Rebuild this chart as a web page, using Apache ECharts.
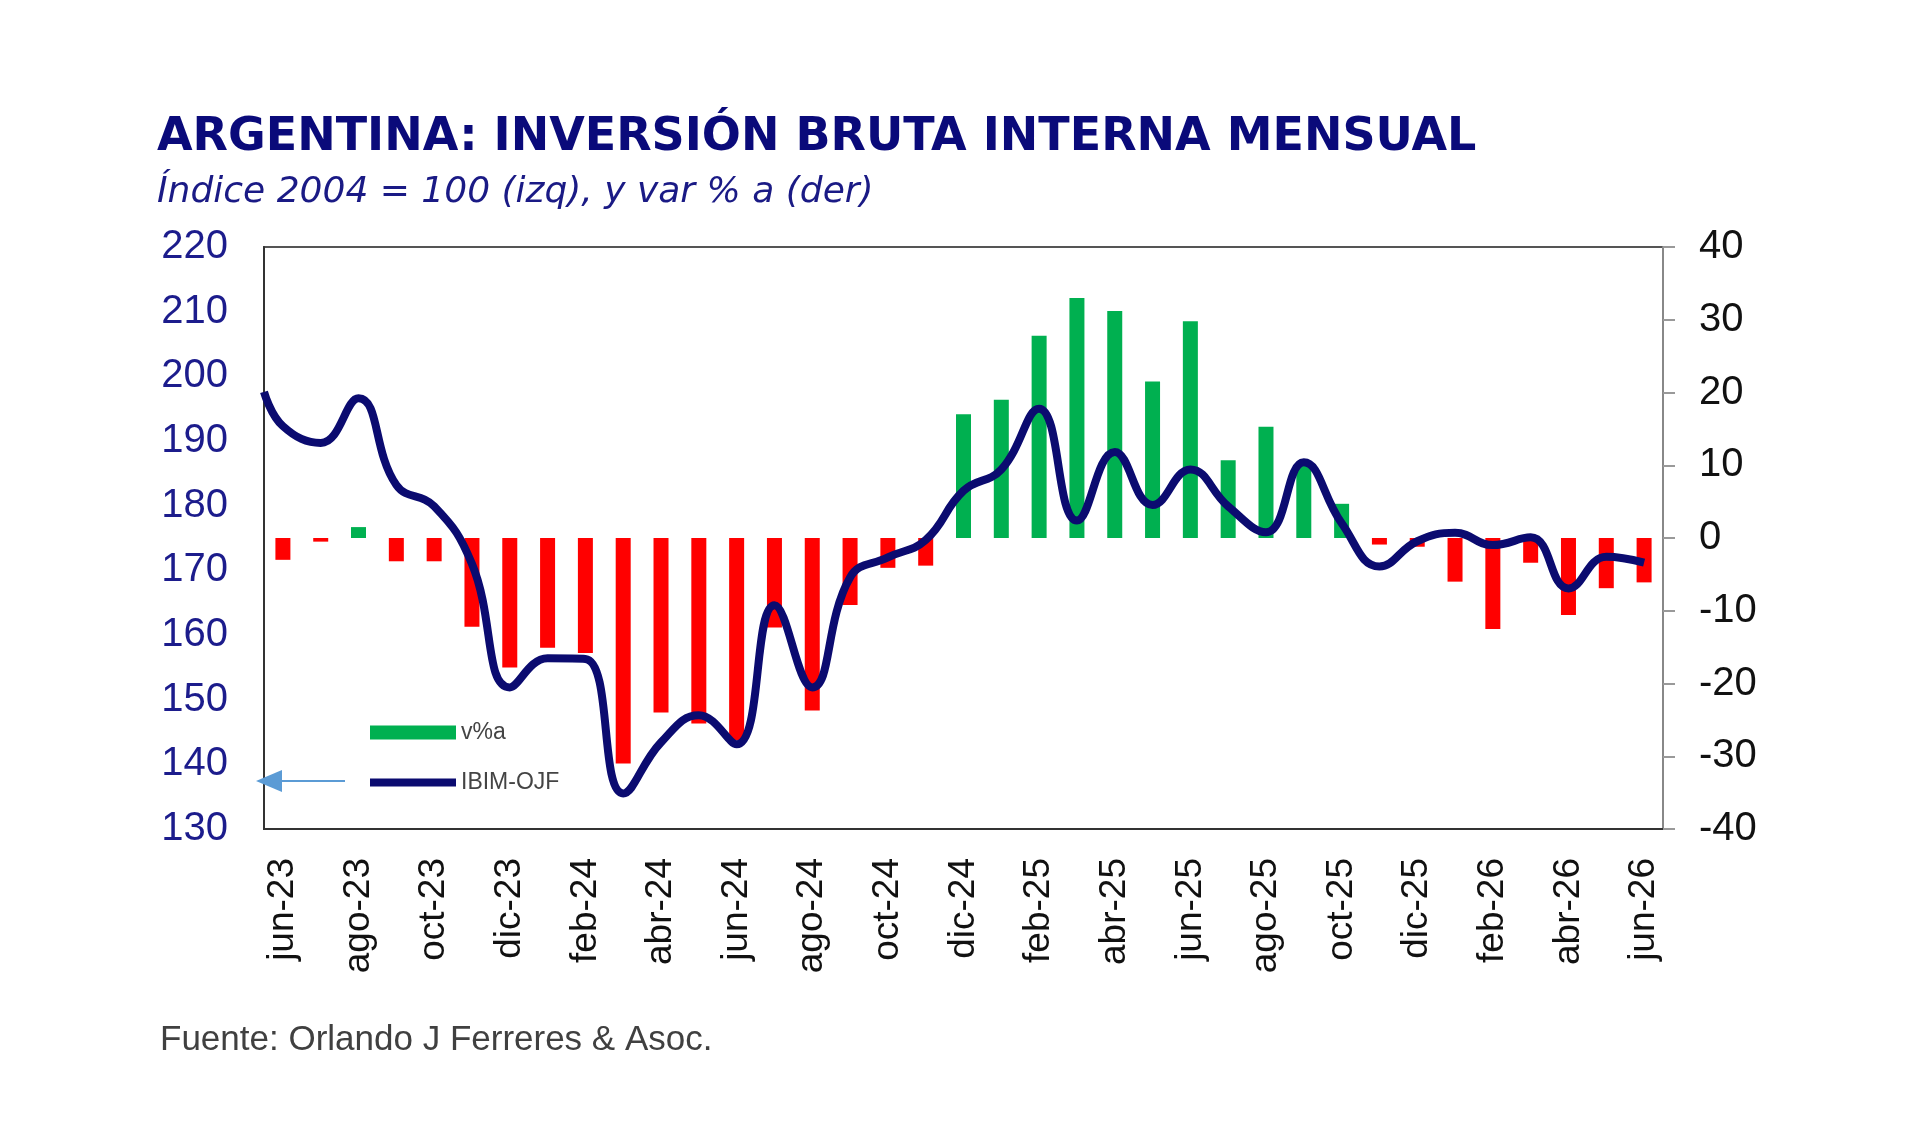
<!DOCTYPE html>
<html>
<head>
<meta charset="UTF-8">
<title>Argentina: Inversión Bruta Interna Mensual</title>
<style>
  html, body { margin: 0; padding: 0; background: #fff; }
  #main { width: 1920px; height: 1147px; }
</style>
</head>
<body>
<div id="main"></div>
<script src="https://cdn.jsdelivr.net/npm/echarts@6/dist/echarts.min.js"></script>
<script>
// meses (eje x)
var months = ['jun-23','jul-23','ago-23','sep-23','oct-23','nov-23','dic-23','ene-24','feb-24','mar-24',
  'abr-24','may-24','jun-24','jul-24','ago-24','sep-24','oct-24','nov-24','dic-24','ene-25',
  'feb-25','mar-25','abr-25','may-25','jun-25','jul-25','ago-25','sep-25','oct-25','nov-25',
  'dic-25','ene-26','feb-26','mar-26','abr-26','may-26','jun-26'];

// var % a (eje derecho)
var varA = [-3.0,-0.5,1.5,-3.2,-3.2,-12.2,-17.8,-15.1,-15.8,-31.0,
  -24.0,-25.5,-27.8,-12.3,-23.7,-9.2,-4.1,-3.8,17.0,19.0,
  27.8,33.0,31.2,21.5,29.8,10.7,15.3,10.0,4.7,-0.9,
  -1.2,-6.0,-12.5,-3.4,-10.6,-6.9,-6.1];

// IBIM-OJF, índice 2004=100 (eje izquierdo)
var ibim = [192.3,189.7,196.6,183.2,179.9,171.0,151.9,156.4,156.3,135.5,
  143.4,147.6,143.1,164.6,151.9,168.9,172.0,174.7,182.3,185.6,
  195.0,177.7,188.3,180.1,185.6,179.9,175.9,186.7,177.3,170.6,
  174.5,175.8,173.9,175.1,167.2,172.1,171.2];
// valor de la curva en el borde izquierdo del gráfico
var ibimEdge = 197.6;

var leftTicks = [130, 220, 10];
var rightTicks = [-40, 40, 10];

var myChart = echarts.init(document.getElementById('main'));

var barData = varA.map(function (v) {
  return { value: v, itemStyle: { color: v >= 0 ? '#00b050' : '#ff0000' } };
});
var lineData = [[-0.5, ibimEdge]].concat(ibim.map(function (v, i) { return [i, v]; }));

myChart.setOption({
  animation: false,
  title: [{
    text: 'ARGENTINA: INVERSIÓN BRUTA INTERNA MENSUAL',
    subtext: 'Índice 2004 = 100 (izq), y var % a (der)',
    left: 152,
    top: 110,
    itemGap: 14,
    textStyle: { fontFamily: 'DejaVu Sans', fontWeight: 'bold', fontSize: 46, color: '#0a0a7a' },
    subtextStyle: { fontFamily: 'DejaVu Sans', fontStyle: 'italic', fontSize: 36, color: '#1a1a85' }
  }, {
    text: 'Fuente: Orlando J Ferreres & Asoc.',
    left: 155,
    top: 1018,
    textStyle: { fontFamily: 'Liberation Sans', fontWeight: 'normal', fontSize: 35, color: '#404040' }
  }],
  legend: {
    orient: 'vertical',
    left: 361,
    top: 716,
    itemWidth: 86,
    itemHeight: 14,
    itemGap: 27,
    textStyle: { fontFamily: 'Liberation Sans', fontSize: 23, color: '#444' },
    data: [
      { name: 'v%a', icon: 'rect', itemStyle: { color: '#00b050' } },
      { name: 'IBIM-OJF', itemStyle: { opacity: 0 }, lineStyle: { width: 8, color: '#0b0b70' } }
    ]
  },
  grid: {
    left: 264, right: 257, top: 247, bottom: 318,
    show: true, borderColor: '#555', borderWidth: 2
  },
  xAxis: [{
    type: 'category',
    data: months,
    boundaryGap: true,
    axisLine: { onZero: false, lineStyle: { color: '#333', width: 2 } },
    axisTick: { show: false },
    axisLabel: {
      interval: 1, rotate: 90, margin: 29,
      fontFamily: 'Liberation Sans', fontSize: 37, color: '#111'
    }
  }, {
    type: 'value',
    min: -0.5, max: 36.5,
    show: false
  }],
  yAxis: [{
    type: 'value',
    position: 'left',
    min: leftTicks[0], max: leftTicks[1], interval: leftTicks[2],
    axisLine: { show: true, onZero: false, lineStyle: { color: '#333', width: 2 } },
    axisTick: { show: false },
    splitLine: { show: false },
    axisLabel: { margin: 36, fontFamily: 'Liberation Sans', fontSize: 40, color: '#1c1c8c' }
  }, {
    type: 'value',
    position: 'right',
    min: rightTicks[0], max: rightTicks[1], interval: rightTicks[2],
    axisLine: { show: true, onZero: false, lineStyle: { color: '#888', width: 2 } },
    axisTick: { show: true, length: 12, lineStyle: { color: '#999', width: 2 } },
    splitLine: { show: false },
    axisLabel: { margin: 36, fontFamily: 'Liberation Sans', fontSize: 40, color: '#111' }
  }],
  series: [{
    name: 'v%a',
    type: 'bar',
    xAxisIndex: 0,
    yAxisIndex: 1,
    barWidth: 15,
    data: barData
  }, {
    name: 'IBIM-OJF',
    type: 'line',
    xAxisIndex: 1,
    yAxisIndex: 0,
    smooth: 0.45,
    symbol: 'none',
    lineStyle: { color: '#0b0b70', width: 8 },
    itemStyle: { color: '#0b0b70' },
    data: lineData,
    z: 3
  }],
  graphic: [{
    type: 'line',
    shape: { x1: 345, y1: 781, x2: 272, y2: 781 },
    style: { stroke: '#5b9bd5', lineWidth: 2 },
    z: 10
  }, {
    type: 'polygon',
    shape: { points: [[256, 781], [282, 770], [282, 792]] },
    style: { fill: '#5b9bd5' },
    z: 10
  }]
});
</script>
</body>
</html>
